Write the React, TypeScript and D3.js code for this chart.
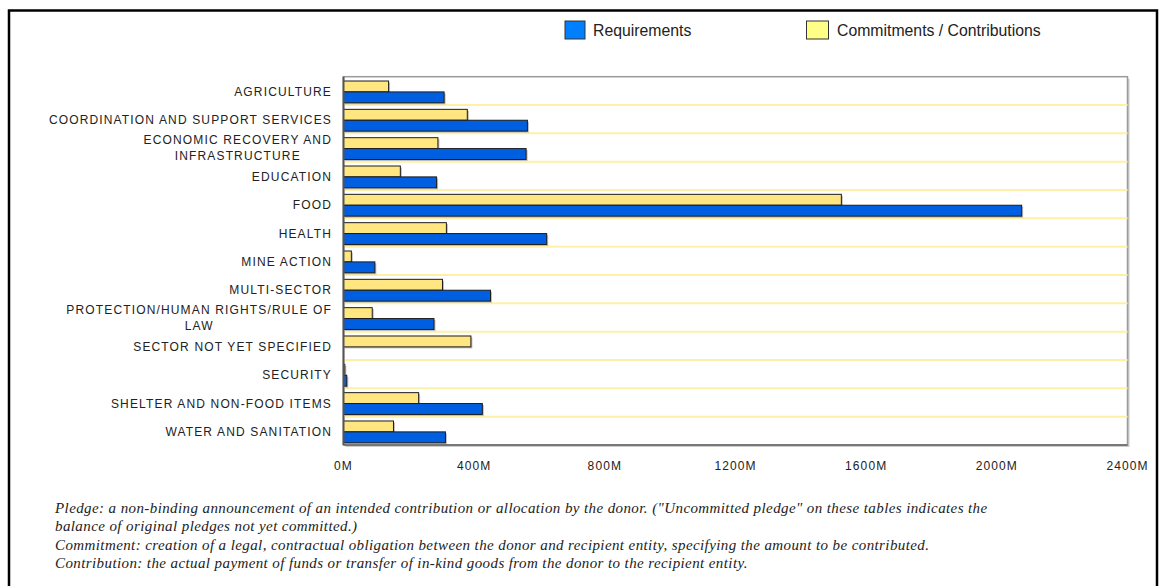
import React from 'react';
import * as d3 from 'd3';

// sectors, top to bottom ("|" marks a line break in the label)
const sectors = [
  'AGRICULTURE',
  'COORDINATION AND SUPPORT SERVICES',
  'ECONOMIC RECOVERY AND|INFRASTRUCTURE',
  'EDUCATION',
  'FOOD',
  'HEALTH',
  'MINE ACTION',
  'MULTI-SECTOR',
  'PROTECTION/HUMAN RIGHTS/RULE OF|LAW',
  'SECTOR NOT YET SPECIFIED',
  'SECURITY',
  'SHELTER AND NON-FOOD ITEMS',
  'WATER AND SANITATION',
];

// millions of US$
const requirements = [308, 563, 559, 285, 2076, 622, 96, 450, 277, 0, 10, 425, 312];
const commitments = [138, 379, 289, 174, 1524, 315, 24, 303, 88, 390, 4, 230, 153];

const xTicks = [0, 400, 800, 1200, 1600, 2000, 2400];

const notes = [
  'Pledge: a non-binding announcement of an intended contribution or allocation by the donor. ("Uncommitted pledge" on these tables indicates the',
  'balance of original pledges not yet committed.)',
  'Commitment: creation of a legal, contractual obligation between the donor and recipient entity, specifying the amount to be contributed.',
  'Contribution: the actual payment of funds or transfer of in-kind goods from the donor to the recipient entity.',
];

const W = 1162, H = 586;
const plot = { left: 343.5, right: 1127.5, top: 76.7, bottom: 445 };

const BLUE = '#005fe0';
const YELLOW = '#ffe680';
const labelFont = '"Liberation Sans", Arial, sans-serif';

export default function App() {
  const x = d3.scaleLinear().domain([0, 2400]).range([plot.left, plot.right]);
  const y = d3.scaleBand<string>().domain(sectors).range([plot.top, plot.bottom]).padding(0);
  // two bars in each band: commitments on top, requirements below
  const sub = d3.scaleBand<string>().domain(['c', 'r']).range([0, y.step()])
    .paddingInner(0).paddingOuter(0.3).align(0.66);

  const bar = (key: string, v: number, cat: string, fill: string) => {
    if (v <= 0) return null;
    const y0 = (y(cat) ?? 0) + (sub(key) ?? 0);
    const w = x(v) - x(0);
    return (
      <g key={key + cat}>
        <rect x={x(0) + 1.5} y={y0 + 1.5} width={w} height={sub.bandwidth()} fill="#888" opacity={0.55} />
        <rect x={x(0)} y={y0} width={w} height={sub.bandwidth()} fill={fill} stroke="#1c1c1c" strokeWidth={1} />
      </g>
    );
  };

  return (
    <svg width={W} height={H} style={{ position: 'absolute', left: 0, top: 0, background: '#fff' }}>
      {/* outer frame */}
      <rect x={9} y={10.5} width={1148} height={H + 20} fill="none" stroke="#000" strokeWidth={2.5} />

      {/* legend */}
      <g fontFamily={labelFont} fontSize={15.8} fill="#222">
        <rect x={565} y={21} width={20} height={18} fill="#0080ff" stroke="#333" />
        <text x={593} y={36}>Requirements</text>
        <rect x={806.5} y={21} width={22} height={18} fill="#ffff88" stroke="#333" />
        <text x={837} y={36}>Commitments / Contributions</text>
      </g>

      {/* plot frame with shadow */}
      <rect x={plot.left + 2} y={plot.top + 2} width={plot.right - plot.left} height={plot.bottom - plot.top} fill="#ccc" />
      <rect x={plot.left} y={plot.top} width={plot.right - plot.left} height={plot.bottom - plot.top} fill="#fff" stroke="#9a9a9a" strokeWidth={1.5} />

      {/* grid lines between sectors */}
      {sectors.slice(1).map(s => (
        <line key={'g' + s} x1={plot.left} x2={plot.right} y1={y(s)} y2={y(s)} stroke="#fff0a8" strokeWidth={2} />
      ))}

      {sectors.map((s, i) => bar('c', commitments[i], s, YELLOW))}
      {sectors.map((s, i) => bar('r', requirements[i], s, BLUE))}

      {/* axis lines */}
      <line x1={plot.left} x2={plot.left} y1={plot.top} y2={plot.bottom} stroke="#555" strokeWidth={2} />
      <line x1={plot.left} x2={plot.right} y1={plot.bottom} y2={plot.bottom} stroke="#666" strokeWidth={1.5} />

      {/* single-line category labels */}
      <g fontFamily={labelFont} fontSize={12} fill="#222" letterSpacing={1.15}>
        {sectors.filter(s => !s.includes('|')).map(s => {
          const c = (y(s) ?? 0) + (sub('c') ?? 0) + sub.bandwidth();
          return <text key={'l' + s} x={332} y={c + 4} textAnchor="end">{s}</text>;
        })}
      </g>
      <TwoLineLabels y={y} sub={sub} />

      {/* x tick labels */}
      <g fontFamily={labelFont} fontSize={12} fill="#222" letterSpacing={1.1} textAnchor="middle">
        {xTicks.map(t => (
          <text key={'t' + t} x={x(t)} y={470}>{t + 'M'}</text>
        ))}
      </g>

      {/* footnotes */}
      <g fontFamily='"Liberation Serif", "Times New Roman", serif' fontStyle="italic" fontSize={15} letterSpacing={0.4} fill="#222">
        {notes.map((n, i) => (
          <text key={'n' + i} x={55} y={[513, 531, 550, 568][i]}>{n}</text>
        ))}
      </g>
    </svg>
  );
}

// wrapped labels: first line right-aligned, second line centred under it
function TwoLineLabels({ y, sub }: { y: d3.ScaleBand<string>; sub: d3.ScaleBand<string> }) {
  const ref = React.useRef<SVGGElement>(null);
  React.useEffect(() => {
    if (!ref.current) return;
    const g = d3.select(ref.current);
    g.selectAll('*').remove();
    sectors.filter(s => s.includes('|')).forEach(s => {
      const [a, b] = s.split('|');
      const c = (y(s) ?? 0) + (sub('c') ?? 0) + sub.bandwidth();
      const first = g.append('text').attr('x', 332).attr('y', c - 5).attr('text-anchor', 'end').text(a);
      const bb = (first.node() as SVGTextElement).getBBox();
      g.append('text').attr('x', bb.x + bb.width / 2).attr('y', c + 11)
        .attr('text-anchor', 'middle').text(b);
    });
  }, [y, sub]);
  return <g ref={ref} fontFamily={labelFont} fontSize={12} fill="#222" letterSpacing={1.15} />;
}
